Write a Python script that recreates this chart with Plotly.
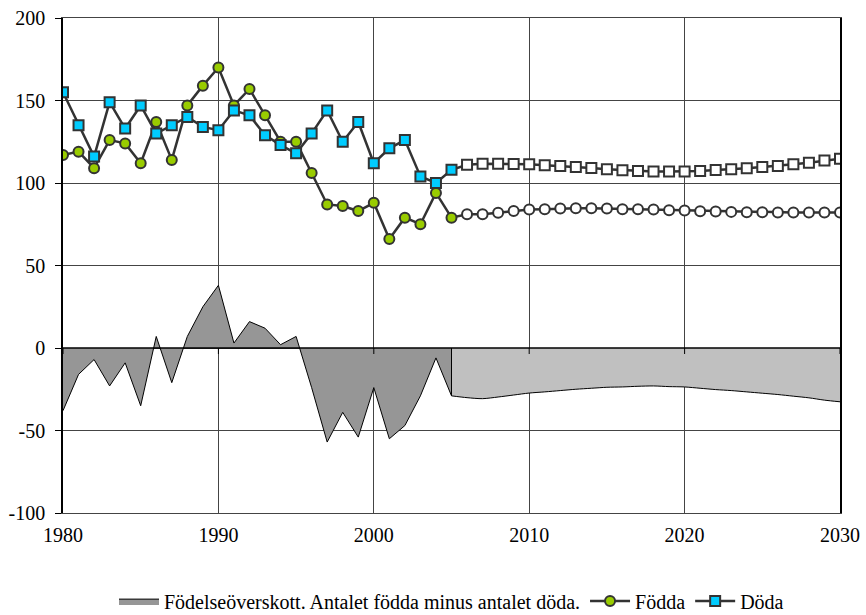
import plotly.graph_objects as go

years = list(range(1980, 2031))
split_year = 2005

fodda = [117, 119, 109, 126, 124, 112, 137, 114, 147, 159,
         170, 147, 157, 141, 125, 125, 106, 87, 86, 83,
         88, 66, 79, 75, 94, 79,
         81, 81, 82, 83, 84, 84.1, 84.5, 84.7, 84.7, 84.5,
         84.1, 84.1, 83.9, 83.5, 83.3, 82.9, 82.7, 82.5, 82.3, 82.3,
         82.1, 82.1, 82.1, 82.1, 82.1]
doda = [155, 135, 116, 149, 133, 147, 130, 135, 140, 134,
        132, 144, 141, 129, 123, 118, 130, 144, 125, 137,
        112, 121, 126, 104, 100, 108,
        111.1, 111.7, 111.7, 111.5, 111.3, 110.7, 110.3, 109.7, 109.1, 108.3,
        107.7, 107.3, 106.9, 106.9, 106.9, 107.3, 107.9, 108.3, 108.9, 109.7,
        110.3, 111.3, 112.3, 113.7, 114.7]

x_ticks = [1980, 1990, 2000, 2010, 2020, 2030]
y_ticks = [-100, -50, 0, 50, 100, 150, 200]

area_name = "Födelseöverskott. Antalet födda minus antalet döda."
fodda_name = "Födda"
doda_name = "Döda"

diff = [round(b - d, 2) for b, d in zip(fodda, doda)]
hist_idx = [i for i, y in enumerate(years) if y <= split_year]
fc_idx = [i for i, y in enumerate(years) if y >= split_year]

FONT = "Liberation Serif"
LINE = "#333333"

fig = go.Figure()

fig.add_trace(go.Scatter(
    x=[years[i] for i in hist_idx], y=[diff[i] for i in hist_idx],
    mode="lines", fill="tozeroy", fillcolor="#969696",
    line=dict(color="#000000", width=1), name=area_name, showlegend=True))

fig.add_trace(go.Scatter(
    x=[years[i] for i in fc_idx], y=[diff[i] for i in fc_idx],
    mode="lines", fill="tozeroy", fillcolor="#C0C0C0",
    line=dict(color="#000000", width=1, shape="spline", smoothing=0.8),
    showlegend=False, hoverinfo="skip"))

i0 = years.index(split_year)
fig.add_trace(go.Scatter(
    x=[split_year, split_year], y=[0, diff[i0]], mode="lines",
    line=dict(color="#000000", width=1), showlegend=False, hoverinfo="skip"))

f_colors = ["#99CC00" if y <= split_year else "#FFFFFF" for y in years]
d_colors = ["#00CCFF" if y <= split_year else "#FFFFFF" for y in years]

fig.add_trace(go.Scatter(
    x=years, y=fodda, mode="lines+markers", name=fodda_name,
    line=dict(color=LINE, width=2.5),
    marker=dict(symbol="circle", size=10, color=f_colors,
                line=dict(color=LINE, width=2))))

fig.add_trace(go.Scatter(
    x=years, y=doda, mode="lines+markers", name=doda_name,
    line=dict(color=LINE, width=2.5),
    marker=dict(symbol="square", size=10, color=d_colors,
                line=dict(color=LINE, width=2))))

shapes = [dict(type="line", xref="paper", yref="y", x0=0, x1=1, y0=0, y1=0,
               line=dict(color="#000000", width=1.5), layer="above")]
for xt in x_ticks:
    shapes.append(dict(type="line", xref="x", yref="y", ysizemode="pixel",
                       yanchor=0, x0=xt, x1=xt, y0=0, y1=-6,
                       line=dict(color="#000000", width=1), layer="above"))

fig.update_layout(
    width=866, height=615,
    margin=dict(l=63, r=26, t=18, b=102, autoexpand=False),
    paper_bgcolor="white", plot_bgcolor="white",
    font=dict(family=FONT, size=20, color="#000000"),
    shapes=shapes,
    showlegend=True,
    legend=dict(orientation="h", x=0.5, xanchor="center", y=-0.178,
                yanchor="middle", font=dict(family=FONT, size=20),
                itemwidth=40, tracegroupgap=0, bgcolor="rgba(0,0,0,0)"),
    xaxis=dict(range=[1980, 2030], tickmode="array", tickvals=x_ticks,
               ticktext=[str(v) for v in x_ticks], automargin=False,
               tickfont=dict(family=FONT, size=20),
               showgrid=True, gridcolor="#444444", gridwidth=1,
               showline=True, linecolor="#444444", linewidth=1, mirror=True,
               ticks="", zeroline=False, ticklabelstandoff=4),
    yaxis=dict(range=[-100, 200], tickmode="array", tickvals=y_ticks,
               ticktext=[str(v) for v in y_ticks], automargin=False,
               tickfont=dict(family=FONT, size=20),
               showgrid=True, gridcolor="#444444", gridwidth=1,
               showline=True, linecolor="#000000", linewidth=1.5, mirror=True,
               ticks="outside", ticklen=6, tickcolor="#000000",
               zeroline=False, ticklabelstandoff=6),
)

fig.write_html("out.html", config={"displayModeBar": False},
               post_script="document.body.style.margin='0px';document.body.style.padding='0px';")
